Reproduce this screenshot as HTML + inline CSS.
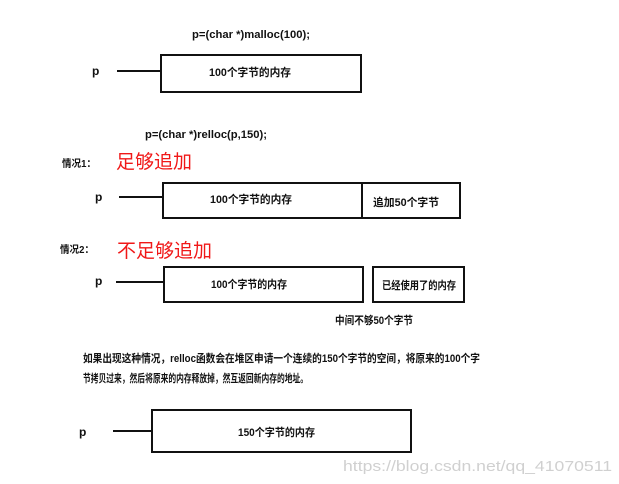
<!DOCTYPE html>
<html><head><meta charset="utf-8"><style>
html,body{margin:0;padding:0;background:#fff;}
svg{display:block;}
text{font-family:"Liberation Sans","Noto Sans CJK SC",sans-serif;font-weight:bold;fill:#111;}
.r{fill:#f01818;font-weight:normal;}
rect,line{stroke:#111;stroke-width:2;fill:none;}
</style></head><body>
<svg width="619" height="484" viewBox="0 0 619 484">
<text x="192" y="38" font-size="11" textLength="118" lengthAdjust="spacingAndGlyphs">p=(char *)malloc(100);</text>
<text x="92" y="75" font-size="12">p</text>
<line x1="117" y1="71" x2="161" y2="71"/>
<rect x="161" y="55" width="200" height="37"/>
<text x="209" y="76" font-size="11" textLength="82" lengthAdjust="spacingAndGlyphs">100个字节的内存</text>

<text x="145" y="138" font-size="11" textLength="122" lengthAdjust="spacingAndGlyphs">p=(char *)relloc(p,150);</text>
<text x="62" y="167" font-size="10" textLength="34" lengthAdjust="spacingAndGlyphs">情况1：</text>
<text class="r" x="116" y="168" font-size="19" textLength="76" lengthAdjust="spacingAndGlyphs">足够追加</text>
<text x="95" y="201" font-size="12">p</text>
<line x1="119" y1="197" x2="163" y2="197"/>
<rect x="163" y="183" width="199" height="35"/>
<rect x="362" y="183" width="98" height="35"/>
<text x="210" y="203" font-size="11" textLength="82" lengthAdjust="spacingAndGlyphs">100个字节的内存</text>
<text x="373" y="206" font-size="11" textLength="66" lengthAdjust="spacingAndGlyphs">追加50个字节</text>

<text x="60" y="253" font-size="10" textLength="34" lengthAdjust="spacingAndGlyphs">情况2：</text>
<text class="r" x="117" y="257" font-size="19" textLength="95" lengthAdjust="spacingAndGlyphs">不足够追加</text>
<text x="95" y="285" font-size="12">p</text>
<line x1="116" y1="282" x2="164" y2="282"/>
<rect x="164" y="267" width="199" height="35"/>
<rect x="373" y="267" width="91" height="35"/>
<text x="211" y="288" font-size="11" textLength="76" lengthAdjust="spacingAndGlyphs">100个字节的内存</text>
<text x="382" y="289" font-size="11" textLength="74" lengthAdjust="spacingAndGlyphs">已经使用了的内存</text>
<text x="335" y="324" font-size="11" textLength="78" lengthAdjust="spacingAndGlyphs">中间不够50个字节</text>

<text x="83" y="362" font-size="11" textLength="397" lengthAdjust="spacingAndGlyphs">如果出现这种情况，relloc函数会在堆区申请一个连续的150个字节的空间，将原来的100个字</text>
<text x="83" y="382" font-size="11" textLength="225" lengthAdjust="spacingAndGlyphs">节拷贝过来，然后将原来的内存释放掉，然互返回新内存的地址。</text>

<text x="79" y="436" font-size="12">p</text>
<line x1="113" y1="431" x2="152" y2="431"/>
<rect x="152" y="410" width="259" height="42"/>
<text x="238" y="436" font-size="11" textLength="77" lengthAdjust="spacingAndGlyphs">150个字节的内存</text>

<text x="343" y="471" font-size="15" style="font-weight:normal;fill:#d0d0d0" textLength="269" lengthAdjust="spacingAndGlyphs">https://blog.csdn.net/qq_41070511</text>
</svg>
</body></html>
